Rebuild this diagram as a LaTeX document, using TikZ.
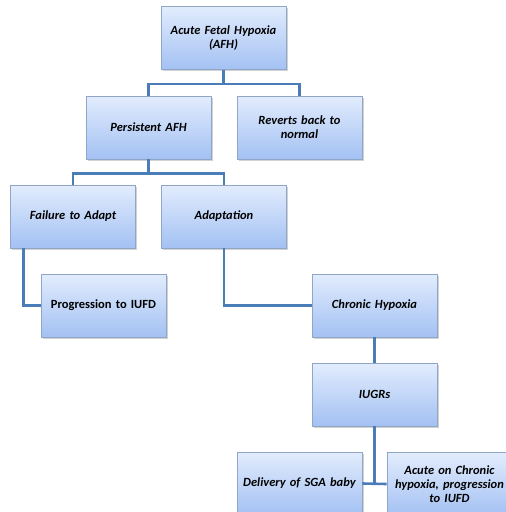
\documentclass[tikz,border=0pt]{standalone}
\usepackage{fontspec}
\setmainfont{Carlito}
\usetikzlibrary{shadows,calc}
\definecolor{boxtop}{HTML}{E2ECFD}
\definecolor{boxbot}{HTML}{A3C1F3}
\definecolor{boxline}{HTML}{8FA6C6}
\definecolor{conn}{HTML}{4A7DB8}
\begin{document}
\begin{tikzpicture}[x=1pt,y=-1pt,
  box/.style={rectangle, minimum width=125pt, minimum height=63pt, inner sep=2pt,
    text width=121pt, align=center, top color=boxtop, bottom color=boxbot,
    draw=boxline, line width=0.6pt, font=\fontsize{12.5}{14.2}\selectfont\bfseries\itshape,
    drop shadow={shadow xshift=1.5pt, shadow yshift=-1.5pt, opacity=0.35}},
  uprightbox/.style={box, font=\fontsize{12.5}{14.2}\selectfont\bfseries},
  link/.style={draw=conn, line width=2.6pt}]
\path[use as bounding box, clip] (0,0) rectangle (506,512);
\fill[white] (0,0) rectangle (506,512);
\node[box] (afh) at (223.5,38) {Acute Fetal Hypoxia\\(AFH)};
\node[box] (pers) at (148.5,127.5) {Persistent AFH};
\node[box] (rev) at (299.5,127.5) {Reverts back to\\normal};
\node[box] (fail) at (73,216.5) {Failure to Adapt};
\node[box] (adapt) at (224,216.5) {Adaptation};
\node[uprightbox] (prog) at (103.5,305.5) {Progression to IUFD};
\node[box] (chron) at (374.5,305.5) {Chronic Hypoxia};
\node[box] (iugr) at (374.5,394.5) {IUGRs};
\node[box] (deliv) at (299.5,483.5) {Delivery of SGA baby};
\node[box] (acute) at (449.5,484) {Acute on Chronic\\hypoxia, progression\\to IUFD};
\coordinate (failout) at ($(fail.south west)+(13,0)$);
\draw[link] (afh.south) -- ++(0,14) -| (pers.north);
\draw[link] (afh.south) -- ++(0,14) -| (rev.north);
\draw[link] (pers.south) -- ++(0,14) -| (fail.north);
\draw[link] (pers.south) -- ++(0,14) -| (adapt.north);
\draw[link] (failout) |- (prog.west);
\draw[link] (adapt.south) |- (chron.west);
\draw[link] (chron.south) -- (iugr.north);
\draw[link] (iugr.south) -- (iugr.south |- deliv.east);
\draw[link] (deliv.east) -- (acute.west);
\end{tikzpicture}
\end{document}
